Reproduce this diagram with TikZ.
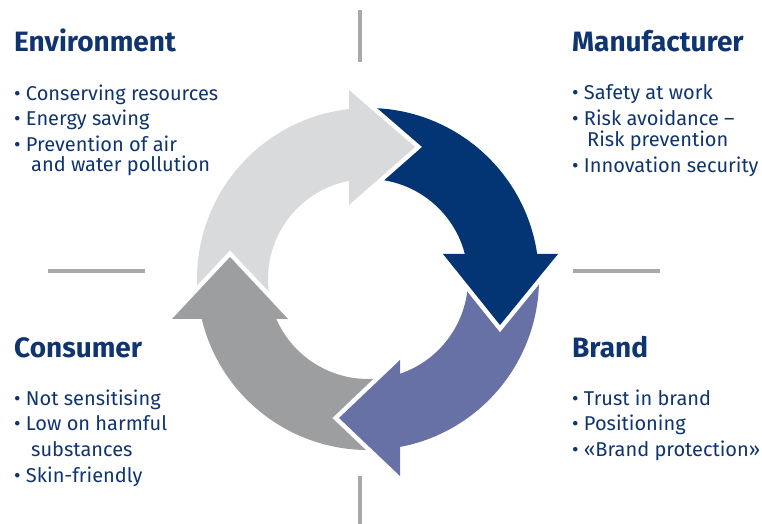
\documentclass[tikz,border=0pt]{standalone}
\usepackage{fontspec}
\setmainfont{Fira Sans}
\usetikzlibrary{positioning}

\definecolor{txtblue}{HTML}{0F3470}
\definecolor{ringdark}{HTML}{033574}
\definecolor{ringpurple}{HTML}{6771A5}
\definecolor{ringmid}{HTML}{9D9EA0}
\definecolor{ringlight}{HTML}{D9DADC}
\definecolor{rulegray}{HTML}{A7A8AA}

\begin{document}
\begin{tikzpicture}[x=1pt,y=1pt,
  heading/.style={anchor=base west,inner sep=0pt,text=txtblue,font=\fontsize{28}{28}\selectfont\bfseries},
  item/.style={anchor=base west,inner sep=0pt,text=txtblue,font=\fontsize{20}{20}\selectfont},
  divider/.style={rulegray,line width=4},
  tip/.style={preaction={draw=white,line width=9}}]
\useasboundingbox (0,0) rectangle (762,524);

% dividers
\draw[divider] (359.5,514)--(359.5,462);
\draw[divider] (48,253)--(145,253);
\draw[divider] (573,253)--(660,253);
\draw[divider] (359.5,48)--(359.5,0);

% ring, one sector per arrow
\begin{scope}[shift={(368,245)}]
\foreach \col/\a/\b in {ringlight/192/95,ringdark/95/6,ringpurple/6/-81,ringmid/-81/-168}
  \fill[\col] (\a:171) arc[start angle=\a,end angle=\b,radius=171]
    -- (\b:100) arc[start angle=\b,end angle=\a,radius=100] -- cycle;
\end{scope}

% arrow heads
\fill[ringlight,tip] (349,434)--(415,377)--(349,319);
\fill[ringdark,tip] (443,270)--(500,199)--(558,270);
\fill[ringpurple,tip] (400,164)--(339,106)--(400,48);
\fill[ringmid,tip] (288,205)--(230,267)--(172,205);

% texts
\node[heading] (env) at (14,472.3) {Environment};
\node[item] (env1) at (14,423) {• Conserving resources};
\node[item] (env2) at (14,398) {• Energy saving};
\node[item] (env3) at (14,372.3) {• Prevention of air};
\node[item] (env4) at (31,352.3) {and water pollution};

\node[heading] (man) at (572,472.3) {Manufacturer};
\node[item] (man1) at (572,424) {• Safety at work};
\node[item] (man2) at (572,398) {• Risk avoidance –};
\node[item] (man3) at (587,377.3) {Risk prevention};
\node[item] (man4) at (572,351.3) {• Innovation security};

\node[heading] (con) at (14,166.7) {Consumer};
\node[item] (con1) at (14,118) {• Not sensitising};
\node[item] (con2) at (14,93) {• Low on harmful};
\node[item] (con3) at (31,67.3) {substances};
\node[item] (con4) at (14,41.3) {• Skin-friendly};

\node[heading] (bra) at (572,166.7) {Brand};
\node[item] (bra1) at (572,118) {• Trust in brand};
\node[item] (bra2) at (572,93) {• Positioning};
\node[item] (bra3) at (572,67.5) {• «Brand protection»};
\end{tikzpicture}
\end{document}
